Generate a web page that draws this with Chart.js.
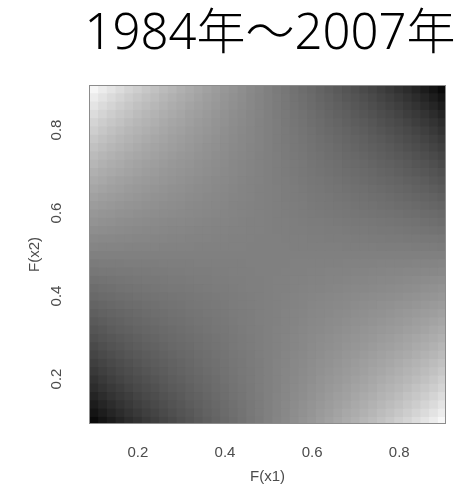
<!DOCTYPE html>
<html>
<head>
<meta charset="utf-8">
<script src="https://cdn.jsdelivr.net/npm/chart.js@4/dist/chart.umd.min.js"></script>
<style>
  html, body { margin: 0; padding: 0; background: #fff; }
  #wrap { position: relative; width: 473px; height: 486px; overflow: hidden; }
  #heat { position: absolute; left: 0; top: 0; filter: blur(0.6px); }
  #title {
    position: absolute; left: 67px; width: 406px; top: 5px; margin: 0;
    text-align: center; white-space: nowrap;
    font-family: "Noto Sans", "Noto Sans CJK JP", sans-serif; font-weight: 300;
    font-size: 49px; line-height: 50px; color: #000;
  }
</style>
</head>
<body>
<div id="wrap">
  <canvas id="heat" width="473" height="486"></canvas>
  <h1 id="title"></h1>
</div>
<script>
// Labels
const chartTitle = '1984年〜2007年';
const axisTitleX = 'F(x1)';
const axisTitleY = 'F(x2)';
const tickValues = [0.2, 0.4, 0.6, 0.8];
const tickLabels = ['0.2', '0.4', '0.6', '0.8'];

// Cell centres: F(x1) left to right, F(x2) top to bottom
const gridF1 = [0.10, 0.12, 0.14, 0.16, 0.18, 0.20, 0.22, 0.24, 0.26, 0.28, 0.30,
                0.32, 0.34, 0.36, 0.38, 0.40, 0.42, 0.44, 0.46, 0.48, 0.50,
                0.52, 0.54, 0.56, 0.58, 0.60, 0.62, 0.64, 0.66, 0.68, 0.70,
                0.72, 0.74, 0.76, 0.78, 0.80, 0.82, 0.84, 0.86, 0.88, 0.90];
const gridF2 = [0.90, 0.88, 0.86, 0.84, 0.82, 0.80, 0.78, 0.76, 0.74, 0.72, 0.70,
                0.68, 0.66, 0.64, 0.62, 0.60, 0.58, 0.56, 0.54, 0.52, 0.50,
                0.48, 0.46, 0.44, 0.42, 0.40, 0.38, 0.36, 0.34, 0.32, 0.30,
                0.28, 0.26, 0.24, 0.22, 0.20, 0.18, 0.16, 0.14, 0.12, 0.10];

// Grey level of each cell (0 = black, 255 = white), one row per F(x2) value
const grayLevel = [
  [246,236,228,220,212,206,199,193,187,182,176,171,166,161,156,151,147,142,137,133,128,123,119,114,109,105,100,95,90,85,80,74,69,63,57,50,44,36,28,20,10],
  [236,227,219,212,205,199,193,188,182,177,172,168,163,158,154,149,145,141,136,132,128,124,120,115,111,107,102,98,93,88,84,79,74,68,63,57,51,44,37,29,20],
  [228,219,212,205,199,193,188,183,178,173,169,164,160,156,152,148,144,140,136,132,128,124,120,116,112,108,104,100,96,92,87,83,78,73,68,63,57,51,44,37,28],
  [220,212,205,199,194,188,183,179,174,170,166,161,158,154,150,146,142,139,135,132,128,124,121,117,114,110,106,102,98,95,90,86,82,77,73,68,62,57,51,44,36],
  [212,205,199,194,188,183,179,175,170,166,163,159,155,152,148,145,141,138,135,131,128,125,121,118,115,111,108,104,101,97,93,90,86,81,77,73,68,62,57,51,44],
  [206,199,193,188,183,179,175,171,167,163,160,156,153,150,147,143,140,137,134,131,128,125,122,119,116,113,109,106,103,100,96,93,89,85,81,77,73,68,63,57,50],
  [199,193,188,183,179,175,171,167,164,160,157,154,151,148,145,142,139,136,134,131,128,125,122,120,117,114,111,108,105,102,99,96,92,89,85,81,77,73,68,63,57],
  [193,188,183,179,175,171,167,164,161,158,155,152,149,146,144,141,138,136,133,131,128,125,123,120,118,115,112,110,107,104,101,98,95,92,89,85,81,77,73,68,63],
  [187,182,178,174,170,167,164,161,158,155,152,150,147,145,142,140,137,135,133,130,128,126,123,121,119,116,114,111,109,106,104,101,98,95,92,89,86,82,78,74,69],
  [182,177,173,170,166,163,160,158,155,152,150,148,145,143,141,139,136,134,132,130,128,126,124,122,120,117,115,113,111,108,106,104,101,98,96,93,90,86,83,79,74],
  [176,172,169,166,163,160,157,155,152,150,148,146,144,142,140,138,136,134,132,130,128,126,124,122,120,118,116,114,112,110,108,106,104,101,99,96,93,90,87,84,80],
  [171,168,164,161,159,156,154,152,150,148,146,144,142,140,138,137,135,133,131,130,128,126,125,123,121,119,118,116,114,112,110,108,106,104,102,100,97,95,92,88,85],
  [166,163,160,158,155,153,151,149,147,145,144,142,140,139,137,136,134,132,131,129,128,127,125,124,122,120,119,117,116,114,112,111,109,107,105,103,101,98,96,93,90],
  [161,158,156,154,152,150,148,146,145,143,142,140,139,137,136,135,133,132,131,129,128,127,125,124,123,121,120,119,117,116,114,113,111,110,108,106,104,102,100,98,95],
  [156,154,152,150,148,147,145,144,142,141,140,138,137,136,135,134,132,131,130,129,128,127,126,125,124,122,121,120,119,118,116,115,114,112,111,109,108,106,104,102,100],
  [151,149,148,146,145,143,142,141,140,139,138,137,136,135,134,133,132,131,130,129,128,127,126,125,124,123,122,121,120,119,118,117,116,115,114,113,111,110,108,107,105],
  [147,145,144,142,141,140,139,138,137,136,136,135,134,133,132,132,131,130,129,129,128,127,127,126,125,124,124,123,122,121,120,120,119,118,117,116,115,114,112,111,109],
  [142,141,140,139,138,137,136,136,135,134,134,133,132,132,131,131,130,130,129,129,128,127,127,126,126,125,125,124,124,123,122,122,121,120,120,119,118,117,116,115,114],
  [137,136,136,135,135,134,134,133,133,132,132,131,131,131,130,130,129,129,129,128,128,128,127,127,127,126,126,125,125,125,124,124,123,123,122,122,121,121,120,120,119],
  [133,132,132,132,131,131,131,131,130,130,130,130,129,129,129,129,129,129,128,128,128,128,128,127,127,127,127,127,127,126,126,126,126,125,125,125,125,124,124,124,123],
  [128,128,128,128,128,128,128,128,128,128,128,128,128,128,128,128,128,128,128,128,128,128,128,128,128,128,128,128,128,128,128,128,128,128,128,128,128,128,128,128,128],
  [123,124,124,124,125,125,125,125,126,126,126,126,127,127,127,127,127,127,128,128,128,128,128,129,129,129,129,129,129,130,130,130,130,131,131,131,131,132,132,132,133],
  [119,120,120,121,121,122,122,123,123,124,124,125,125,125,126,126,127,127,127,128,128,128,129,129,129,130,130,131,131,131,132,132,133,133,134,134,135,135,136,136,137],
  [114,115,116,117,118,119,120,120,121,122,122,123,124,124,125,125,126,126,127,127,128,129,129,130,130,131,131,132,132,133,134,134,135,136,136,137,138,139,140,141,142],
  [109,111,112,114,115,116,117,118,119,120,120,121,122,123,124,124,125,126,127,127,128,129,129,130,131,132,132,133,134,135,136,136,137,138,139,140,141,142,144,145,147],
  [105,107,108,110,111,113,114,115,116,117,118,119,120,121,122,123,124,125,126,127,128,129,130,131,132,133,134,135,136,137,138,139,140,141,142,143,145,146,148,149,151],
  [100,102,104,106,108,109,111,112,114,115,116,118,119,120,121,122,124,125,126,127,128,129,130,131,132,134,135,136,137,138,140,141,142,144,145,147,148,150,152,154,156],
  [95,98,100,102,104,106,108,110,111,113,114,116,117,119,120,121,123,124,125,127,128,129,131,132,133,135,136,137,139,140,142,143,145,146,148,150,152,154,156,158,161],
  [90,93,96,98,101,103,105,107,109,111,112,114,116,117,119,120,122,124,125,127,128,129,131,132,134,136,137,139,140,142,144,145,147,149,151,153,155,158,160,163,166],
  [85,88,92,95,97,100,102,104,106,108,110,112,114,116,118,119,121,123,125,126,128,130,131,133,135,137,138,140,142,144,146,148,150,152,154,156,159,161,164,168,171],
  [80,84,87,90,93,96,99,101,104,106,108,110,112,114,116,118,120,122,124,126,128,130,132,134,136,138,140,142,144,146,148,150,152,155,157,160,163,166,169,172,176],
  [74,79,83,86,90,93,96,98,101,104,106,108,111,113,115,117,120,122,124,126,128,130,132,134,136,139,141,143,145,148,150,152,155,158,160,163,166,170,173,177,182],
  [69,74,78,82,86,89,92,95,98,101,104,106,109,111,114,116,119,121,123,126,128,130,133,135,137,140,142,145,147,150,152,155,158,161,164,167,170,174,178,182,187],
  [63,68,73,77,81,85,89,92,95,98,101,104,107,110,112,115,118,120,123,125,128,131,133,136,138,141,144,146,149,152,155,158,161,164,167,171,175,179,183,188,193],
  [57,63,68,73,77,81,85,89,92,96,99,102,105,108,111,114,117,120,122,125,128,131,134,136,139,142,145,148,151,154,157,160,164,167,171,175,179,183,188,193,199],
  [50,57,63,68,73,77,81,85,89,93,96,100,103,106,109,113,116,119,122,125,128,131,134,137,140,143,147,150,153,156,160,163,167,171,175,179,183,188,193,199,206],
  [44,51,57,62,68,73,77,81,86,90,93,97,101,104,108,111,115,118,121,125,128,131,135,138,141,145,148,152,155,159,163,166,170,175,179,183,188,194,199,205,212],
  [36,44,51,57,62,68,73,77,82,86,90,95,98,102,106,110,114,117,121,124,128,132,135,139,142,146,150,154,158,161,166,170,174,179,183,188,194,199,205,212,220],
  [28,37,44,51,57,63,68,73,78,83,87,92,96,100,104,108,112,116,120,124,128,132,136,140,144,148,152,156,160,164,169,173,178,183,188,193,199,205,212,219,228],
  [20,29,37,44,51,57,63,68,74,79,84,88,93,98,102,107,111,115,120,124,128,132,136,141,145,149,154,158,163,168,172,177,182,188,193,199,205,212,219,227,236],
  [10,20,28,36,44,50,57,63,69,74,80,85,90,95,100,105,109,114,119,123,128,133,137,142,147,151,156,161,166,171,176,182,187,193,199,206,212,220,228,236,246]
];

document.getElementById('title').textContent = chartTitle;

// Each grid row becomes one dataset of floating bars spanning its cell height
const cellHalf = Math.abs(gridF2[0] - gridF2[1]) / 2;
const datasets = grayLevel.map((row, r) => ({
  data: gridF1.map(x => ({ x: x, y: [gridF2[r] - cellHalf, gridF2[r] + cellHalf] })),
  backgroundColor: row.map(g => `rgb(${g},${g},${g})`),
  borderWidth: 0,
  grouped: false,
  barPercentage: 1,
  categoryPercentage: 1,
  inflateAmount: 0.6,
  clip: 0
}));

const axisFont = { family: '"Liberation Sans", Arial, sans-serif', size: 15 };
const textColor = '#4c4c4c';

// Frame around the plot and the rotated F(x2) tick labels
const frameAndYTicks = {
  id: 'frameAndYTicks',
  afterDatasetsDraw(chart) {
    const { ctx, chartArea: a } = chart;
    ctx.save();
    ctx.strokeStyle = '#8c8c8c';
    ctx.lineWidth = 1;
    ctx.strokeRect(Math.round(a.left) - 0.5, Math.round(a.top) - 0.5,
                   Math.round(a.right - a.left) + 1, Math.round(a.bottom - a.top) + 1);
    ctx.restore();
  },
  afterDraw(chart) {
    const { ctx, chartArea: a } = chart;
    const yScale = chart.scales.y;
    ctx.save();
    ctx.fillStyle = textColor;
    ctx.font = `${axisFont.size}px ${axisFont.family}`;
    ctx.textAlign = 'center';
    ctx.textBaseline = 'middle';
    tickValues.forEach((v, i) => {
      ctx.save();
      ctx.translate(a.left - 33, yScale.getPixelForValue(v));
      ctx.rotate(-Math.PI / 2);
      ctx.fillText(tickLabels[i], 0, 0);
      ctx.restore();
    });
    ctx.restore();
  }
};

new Chart(document.getElementById('heat'), {
  type: 'bar',
  data: { datasets },
  options: {
    responsive: false,
    devicePixelRatio: 1,
    animation: false,
    events: [],
    layout: { padding: { top: 86, right: 28, bottom: 0, left: 0 } },
    plugins: { legend: { display: false }, tooltip: { enabled: false }, title: { display: false } },
    scales: {
      x: {
        type: 'linear', min: 0.09, max: 0.905, offset: false,
        grid: { display: false, drawTicks: false, offset: false },
        border: { display: false },
        afterBuildTicks: s => { s.ticks = tickValues.map(v => ({ value: v })); },
        ticks: { padding: 21, color: textColor, font: axisFont, maxRotation: 0, autoSkip: false,
                 callback: (v, i) => tickLabels[i] },
        title: { display: true, text: axisTitleX, color: textColor, font: axisFont, padding: { top: 0, bottom: 0 } },
        afterFit: s => { s.height = 63; }
      },
      y: {
        type: 'linear', min: 0.094, max: 0.906, beginAtZero: false,
        grid: { display: false, drawTicks: false },
        border: { display: false },
        afterBuildTicks: s => { s.ticks = tickValues.map(v => ({ value: v })); },
        ticks: { display: false },
        title: { display: true, text: axisTitleY, color: textColor, font: axisFont, padding: { top: 26, bottom: 0 } },
        afterFit: s => { s.width = 90; }
      }
    }
  },
  plugins: [frameAndYTicks]
});
</script>
</body>
</html>
